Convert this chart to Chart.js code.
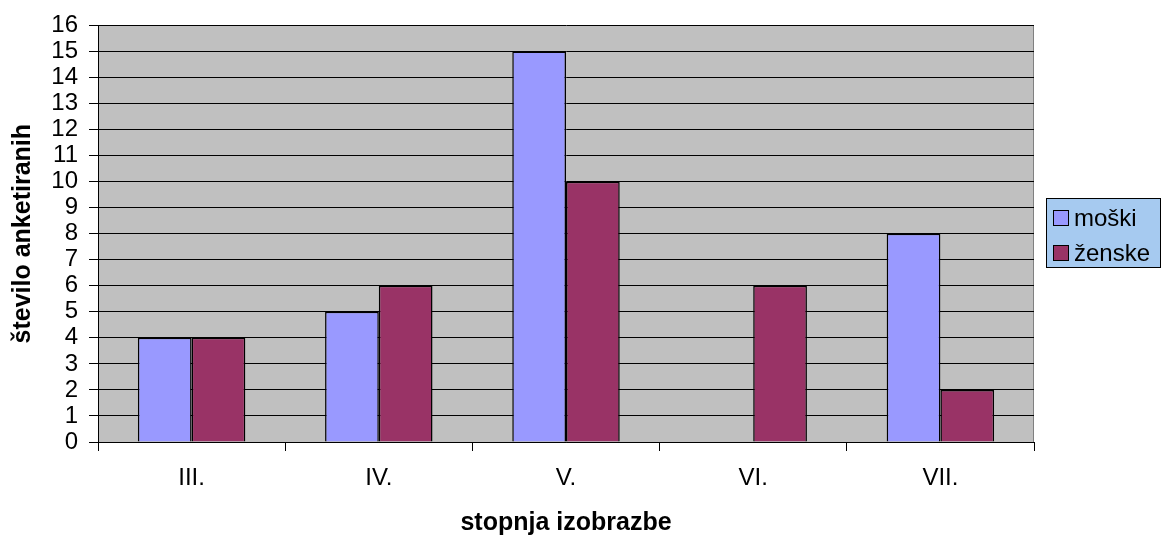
<!DOCTYPE html>
<html>
<head>
<meta charset="utf-8">
<script src="https://cdn.jsdelivr.net/npm/chart.js@4/dist/chart.umd.min.js"></script>
<style>
  html, body { margin: 0; padding: 0; background: #fff; }
  #wrap { width: 1162px; height: 538px; position: relative; }
</style>
</head>
<body>
<div id="wrap"><canvas id="c" width="1162" height="538"></canvas></div>
<script>
const categories = ["III.", "IV.", "V.", "VI.", "VII."];
const moski = [4, 5, 15, 0, 8];
const zenske = [4, 6, 10, 6, 2];
const seriesNames = ["moški", "ženske"];
const yTicks = { min: 0, max: 16, step: 1 };

Chart.defaults.font.family = "'Liberation Sans', Arial, sans-serif";
Chart.defaults.color = "#000";

const plotBg = {
  id: 'plotBg',
  beforeDraw(chart) {
    const { ctx, chartArea: a } = chart;
    ctx.save();
    ctx.fillStyle = '#C0C0C0';
    ctx.fillRect(a.left, a.top, a.right - a.left, a.bottom - a.top);
    ctx.strokeStyle = '#808080';
    ctx.lineWidth = 1;
    ctx.beginPath();
    ctx.moveTo(Math.round(a.right) - 0.5, a.top);
    ctx.lineTo(Math.round(a.right) - 0.5, a.bottom);
    ctx.stroke();
    ctx.restore();
  }
};

const boxLegend = {
  id: 'boxLegend',
  afterDraw(chart) {
    const { ctx } = chart;
    const x0 = 1046.5, y0 = 198.5, w = 114, h = 69;
    ctx.save();
    ctx.fillStyle = '#A6CAF0';
    ctx.fillRect(x0, y0, w, h);
    ctx.strokeStyle = '#000';
    ctx.lineWidth = 1;
    ctx.strokeRect(x0, y0, w, h);
    ctx.font = "24px 'Liberation Sans', Arial, sans-serif";
    ctx.textBaseline = 'alphabetic';
    ctx.textAlign = 'left';
    chart.data.datasets.forEach((ds, i) => {
      const sy = 210.5 + i * 35;
      ctx.fillStyle = ds.backgroundColor;
      ctx.fillRect(1053.5, sy, 15, 15);
      ctx.strokeStyle = '#000';
      ctx.strokeRect(1053.5, sy, 15, 15);
      ctx.fillStyle = '#000';
      ctx.fillText(ds.label, 1074, 226 + i * 35);
    });
    ctx.restore();
  }
};

new Chart(document.getElementById('c'), {
  type: 'bar',
  data: {
    labels: categories,
    datasets: [
      { label: seriesNames[0], data: moski, backgroundColor: '#9999FF', borderColor: '#000', borderWidth: 1.5, borderSkipped: 'bottom' },
      { label: seriesNames[1], data: zenske, backgroundColor: '#993366', borderColor: '#000', borderWidth: 1.5, borderSkipped: 'bottom' }
    ]
  },
  options: {
    responsive: false,
    animation: false,
    devicePixelRatio: 1,
    layout: { padding: { left: 0, top: 22, right: 128, bottom: 0 } },
    datasets: { bar: { categoryPercentage: 0.574, barPercentage: 1 } },
    plugins: {
      legend: { display: false },
      tooltip: { enabled: false }
    },
    scales: {
      x: {
        grid: { offset: true, drawOnChartArea: false, drawTicks: true, tickLength: 9, color: '#000' },
        border: { display: true, color: '#000' },
        ticks: { font: { size: 24 }, padding: 13, color: '#000' },
        title: { display: true, text: 'stopnja izobrazbe', font: { size: 25, weight: 'bold' }, padding: { top: 0, bottom: 0 }, color: '#000' },
        afterFit(scale) { scale.height = 96; }
      },
      y: {
        min: yTicks.min, max: yTicks.max,
        grid: { color: '#000', tickLength: 9, lineWidth: 1 },
        border: { display: true, color: '#000' },
        ticks: { stepSize: yTicks.step, autoSkip: false, font: { size: 24 }, padding: 11, color: '#000' },
        title: { display: true, text: 'število anketiranih', font: { size: 25, weight: 'bold' }, padding: { top: 8, bottom: 0 }, color: '#000' },
        afterFit(scale) { scale.width = 98; }
      }
    }
  },
  plugins: [plotBg, boxLegend]
});
</script>
</body>
</html>
